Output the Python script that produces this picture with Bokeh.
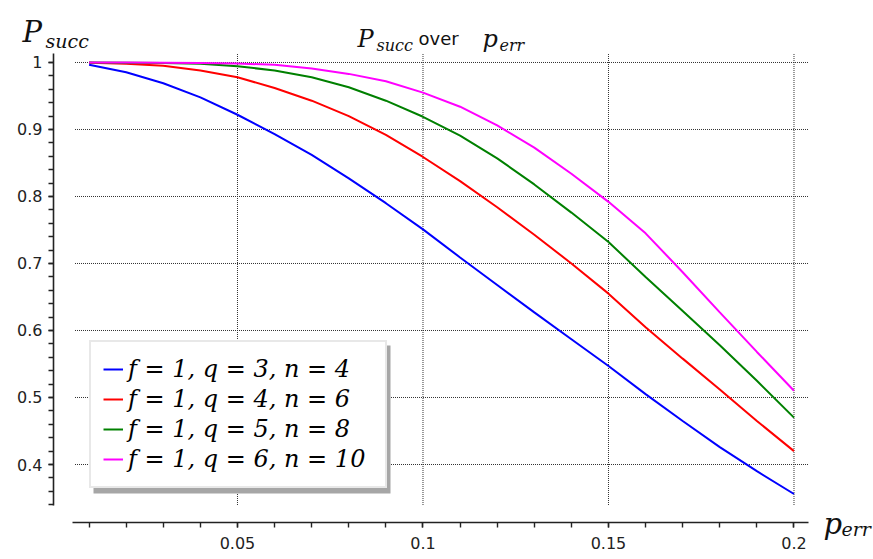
from bokeh.plotting import figure
from bokeh.models import Range1d, FixedTicker, Legend, LegendItem, Label, BoxAnnotation
from bokeh.embed import file_html
from bokeh.resources import INLINE

# error probability samples
p_err = [0.01, 0.02, 0.03, 0.04, 0.05, 0.06, 0.07, 0.08, 0.09, 0.10,
         0.11, 0.12, 0.13, 0.14, 0.15, 0.16, 0.17, 0.18, 0.19, 0.20]

# success probability per configuration
succ_q3_n4 = [0.9966, 0.9855, 0.969, 0.948, 0.922, 0.893, 0.862, 0.827, 0.790, 0.751,
              0.709, 0.668, 0.627, 0.587, 0.547, 0.505, 0.465, 0.426, 0.390, 0.356]
succ_q4_n6 = [0.9995, 0.998, 0.995, 0.988, 0.978, 0.962, 0.943, 0.920, 0.892, 0.859,
              0.823, 0.784, 0.743, 0.700, 0.655, 0.605, 0.558, 0.512, 0.465, 0.420]
succ_q5_n8 = [1.0, 0.9998, 0.9993, 0.998, 0.9945, 0.988, 0.978, 0.963, 0.943, 0.919,
              0.891, 0.857, 0.818, 0.776, 0.732, 0.680, 0.629, 0.578, 0.525, 0.470]
succ_q6_n10 = [1.0, 1.0, 0.9998, 0.9993, 0.9985, 0.9965, 0.991, 0.983, 0.972, 0.955,
               0.934, 0.906, 0.873, 0.834, 0.792, 0.745, 0.687, 0.627, 0.568, 0.510]

series_labels = ["f = 1, q = 3, n = 4", "f = 1, q = 4, n = 6",
                 "f = 1, q = 5, n = 8", "f = 1, q = 6, n = 10"]
series_colors = ["#0000ff", "#ff0000", "#008000", "#ff00ff"]

x_ticks = [0.05, 0.1, 0.15, 0.2]
x_tick_labels = ["0.05", "0.1", "0.15", "0.2"]
x_minor = [0.01, 0.02, 0.03, 0.04, 0.05, 0.06, 0.07, 0.08, 0.09, 0.10,
           0.11, 0.12, 0.13, 0.14, 0.15, 0.16, 0.17, 0.18, 0.19, 0.20]
y_ticks = [0.4, 0.5, 0.6, 0.7, 0.8, 0.9, 1.0]
y_tick_labels = ["0.4", "0.5", "0.6", "0.7", "0.8", "0.9", "1"]
y_minor = [0.34, 0.36, 0.38, 0.40, 0.42, 0.44, 0.46, 0.48, 0.50, 0.52, 0.54,
           0.56, 0.58, 0.60, 0.62, 0.64, 0.66, 0.68, 0.70, 0.72, 0.74, 0.76,
           0.78, 0.80, 0.82, 0.84, 0.86, 0.88, 0.90, 0.92, 0.94, 0.96, 0.98, 1.0]

W, H = 873, 559
# the frame fills the whole canvas; axes are pinned inside it
X0, X1 = -0.013881, 0.221429
Y0, Y1 = 0.258209, 1.092537


def px_x(px):
    return X0 + (X1 - X0) * px / W


def px_y(py):
    return Y1 - (Y1 - Y0) * py / H


p = figure(width=W, height=H, x_range=Range1d(X0, X1), y_range=Range1d(Y0, Y1),
           output_backend="svg", toolbar_location=None,
           min_border=0, min_border_left=0, min_border_right=0,
           min_border_top=0, min_border_bottom=0)
p.outline_line_color = None
p.grid.visible = False
p.background_fill_color = "white"
p.border_fill_color = "white"

p.xaxis.fixed_location = px_y(522)
p.yaxis.fixed_location = px_x(53)
p.xaxis.bounds = (px_x(72), px_x(808))
p.yaxis.bounds = (px_y(505), px_y(53))
p.xaxis.ticker = FixedTicker(ticks=x_ticks, minor_ticks=x_minor)
p.yaxis.ticker = FixedTicker(ticks=y_ticks, minor_ticks=y_minor)
p.xaxis.major_label_overrides = dict(zip(x_ticks, x_tick_labels))
p.yaxis.major_label_overrides = dict(zip(y_ticks, y_tick_labels))
for ax in (p.xaxis, p.yaxis):
    ax.axis_line_color = "#222222"
    ax.axis_line_width = 1.6
    ax.major_tick_line_color = "#222222"
    ax.minor_tick_line_color = "#222222"
    ax.major_tick_line_width = 1.4
    ax.minor_tick_line_width = 1.4
    ax.major_tick_in = 0
    ax.minor_tick_in = 0
    ax.major_tick_out = 5
    ax.minor_tick_out = 5
    ax.major_label_text_font = "DejaVu Sans"
    ax.major_label_text_font_size = "16px"
    ax.major_label_text_color = "#222222"
p.xaxis.major_label_standoff = 9
p.yaxis.major_label_standoff = 6

# dotted grid lines at the major ticks (ends placed on half pixels so the
# dot pattern lands on whole pixels)
grid_y_lo, grid_y_hi = px_y(504.5), px_y(52.5)
grid_x_lo, grid_x_hi = px_x(74.5), px_x(808.5)
p.segment(x0=x_ticks, y0=[grid_y_lo] * len(x_ticks), x1=x_ticks, y1=[grid_y_hi] * len(x_ticks),
          line_color="#333333", line_width=1, line_dash="1 1")
p.segment(x0=[grid_x_lo] * len(y_ticks), y0=y_ticks, x1=[grid_x_hi] * len(y_ticks), y1=y_ticks,
          line_color="#333333", line_width=1, line_dash="1 1")

series = [succ_q3_n4, succ_q4_n6, succ_q5_n8, succ_q6_n10]
items = []
for ys, lab, col in zip(series, series_labels, series_colors):
    r = p.line(p_err, ys, line_color=col, line_width=2)
    items.append(LegendItem(label=lab, renderers=[r]))

# drop shadow behind the legend box
p.add_layout(BoxAnnotation(left=px_x(93), right=px_x(390), top=px_y(345), bottom=px_y(493),
                           fill_color="#a6a6a6", fill_alpha=1.0, line_color=None,
                           level="overlay"))

legend = Legend(items=items, location=(89, H - 488), background_fill_color="white",
                background_fill_alpha=1.0, border_line_color="#d2d2d2",
                border_line_width=2, label_text_color="black",
                label_text_font="DejaVu Serif", label_text_font_style="italic",
                label_text_font_size="24px", label_height=30, glyph_height=30,
                glyph_width=20, label_standoff=5, padding=12, spacing=0,
                label_width=245, margin=0)
p.add_layout(legend, "center")


def math_label(x, y, text, size, font="DejaVu Serif", style="italic"):
    p.add_layout(Label(x=x, y=H - y, x_units="screen", y_units="screen", text=text,
                       text_font=font, text_font_style=style, text_font_size=size,
                       text_color="#111111", text_baseline="alphabetic",
                       text_align="left"))


# y axis label
math_label(22, 31, "P", "29px")
math_label(45, 40, "succ", "19px")
# x axis label
math_label(823, 523, "p", "29px")
math_label(841, 528, "err", "19px")
# title
math_label(357, 38, "P", "24px")
math_label(376, 45, "succ", "16px")
math_label(418, 38, "over", "18px", font="DejaVu Sans", style="normal")
math_label(482, 38, "p", "24px")
math_label(499, 45, "err", "16px")

open("out.html", "w").write(file_html(p, INLINE))
